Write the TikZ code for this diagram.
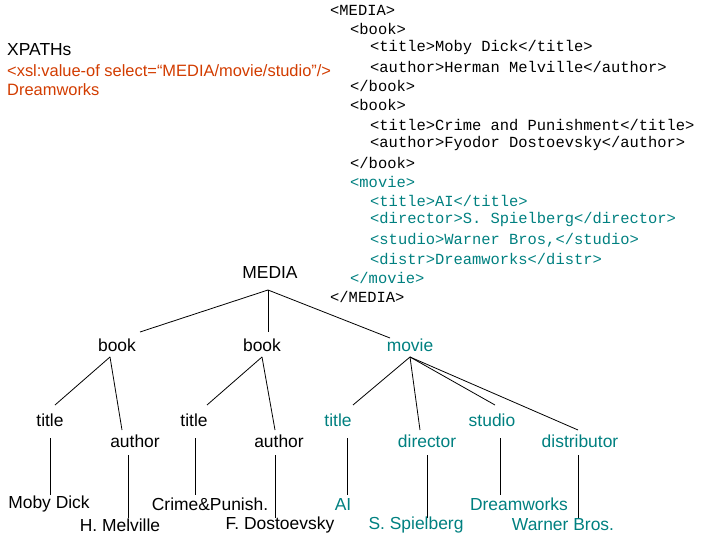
\documentclass[tikz,border=0pt]{standalone}
\usepackage{fontspec}
\setmainfont{Liberation Sans}
\newfontfamily\xmlfont{Liberation Mono}
\definecolor{tealc}{RGB}{0,128,128}
\definecolor{orng}{RGB}{210,60,0}
\begin{document}
\begin{tikzpicture}[x=1bp,y=-1bp,
  lbl/.style={inner sep=0pt,font=\fontsize{17.5}{19}\selectfont},
  tl/.style={lbl,text=tealc},
  xml/.style={inner sep=0pt,anchor=west,font=\xmlfont\fontsize{15.5}{18}\selectfont},
  edge/.style={black,line width=0.8bp}]
\useasboundingbox (0,0) rectangle (720,540);
% left texts
\node[lbl,anchor=west] (xp) at (7,50) {XPATHs};
\node[lbl,anchor=west,text=orng,font=\fontsize{16.5}{18}\selectfont] (sel) at (7,71) {<xsl:value-of select=“MEDIA/movie/studio"/>};
\node[lbl,anchor=west,text=orng,font=\fontsize{16.5}{18}\selectfont] (dw) at (7,90) {Dreamworks};
% xml
\node[xml] (x1) at (330,10) {<MEDIA>};
\node[xml] (x2) at (350,29) {<book>};
\node[xml] (x3) at (370,48) {<title>Moby Dick</title>};
\node[xml] (x4) at (370,67) {<author>Herman Melville</author>};
\node[xml] (x5) at (350,86) {</book>};
\node[xml] (x6) at (350,105) {<book>};
\node[xml] (x7) at (370,125) {<title>Crime and Punishment</title>};
\node[xml] (x8) at (370,144) {<author>Fyodor Dostoevsky</author>};
\node[xml] (x9) at (350,163) {</book>};
\node[xml,text=tealc] (x10) at (350,182) {<movie>};
\node[xml,text=tealc] (x11) at (370,201) {<title>AI</title>};
\node[xml,text=tealc] (x12) at (370,220) {<director>S. Spielberg</director>};
\node[xml,text=tealc] (x13) at (370,240) {<studio>Warner Bros,</studio>};
\node[xml,text=tealc] (x14) at (370,259) {<distr>Dreamworks</distr>};
\node[xml,text=tealc] (x15) at (350,278) {</movie>};
\node[xml] (x16) at (330,297) {</MEDIA>};
% tree
\node[lbl] (media) at (270,273) {MEDIA};
\coordinate (r) at (268,290);
\node[lbl] (b1) at (117,345) {book};
\node[lbl] (b2) at (262,345) {book};
\node[tl] (mv) at (410,345) {movie};
\coordinate (b1t) at (140,332); \coordinate (b2t) at (268,332); \coordinate (mvt) at (390,338);
\draw[edge] (r) -- (b1t); \draw[edge] (r) -- (b2t); \draw[edge] (r) -- (mvt);
\coordinate (b1b) at (110,357); \coordinate (b2b) at (262,357); \coordinate (mvb) at (410,357);
\node[lbl] (t1) at (50,420) {title};
\node[lbl] (a1) at (135,441) {author};
\node[lbl] (t2) at (194,420) {title};
\node[lbl] (a2) at (279,441) {author};
\node[tl] (t3) at (338,420) {title};
\node[tl] (d3) at (427,441) {director};
\node[tl] (s3) at (492,420) {studio};
\node[tl] (ds3) at (580,441) {distributor};
\coordinate (t1t) at (55,405); \coordinate (a1t) at (122,430);
\coordinate (t2t) at (207,405); \coordinate (a2t) at (275,430);
\coordinate (t3t) at (353,405); \coordinate (d3t) at (420,430);
\coordinate (s3t) at (495,405); \coordinate (ds3t) at (578,430);
\draw[edge] (b1b) -- (t1t); \draw[edge] (b1b) -- (a1t);
\draw[edge] (b2b) -- (t2t); \draw[edge] (b2b) -- (a2t);
\draw[edge] (mvb) -- (t3t); \draw[edge] (mvb) -- (d3t);
\draw[edge] (mvb) -- (s3t); \draw[edge] (mvb) -- (ds3t);
\node[lbl] (v1) at (49,504) {Moby Dick};
\node[lbl] (v2) at (120,525) {H. Melville};
\node[lbl] (v3) at (210,504) {Crime\&Punish.};
\node[lbl] (v4) at (280,525) {F. Dostoevsky};
\node[tl] (v5) at (343,504) {AI};
\node[tl] (v6) at (416,525) {S. Spielberg};
\node[tl] (v7) at (519,504) {Dreamworks};
\node[tl] (v8) at (563,525) {Warner Bros.};
\coordinate (v1t) at (50,495); \coordinate (t1b) at (50,438);
\coordinate (v2t) at (128,518); \coordinate (a1b) at (128,455);
\coordinate (v3t) at (195,495); \coordinate (t2b) at (195,438);
\coordinate (v4t) at (275,518); \coordinate (a2b) at (275,455);
\coordinate (v5t) at (347,495); \coordinate (t3b) at (347,438);
\coordinate (v6t) at (427,518); \coordinate (d3b) at (427,455);
\coordinate (v7t) at (500,495); \coordinate (s3b) at (500,438);
\coordinate (v8t) at (578,518); \coordinate (ds3b) at (578,455);
\draw[edge] (t1b) -- (v1t); \draw[edge] (a1b) -- (v2t);
\draw[edge] (t2b) -- (v3t); \draw[edge] (a2b) -- (v4t);
\draw[edge] (t3b) -- (v5t); \draw[edge] (d3b) -- (v6t);
\draw[edge] (s3b) -- (v7t); \draw[edge] (ds3b) -- (v8t);
\end{tikzpicture}
\end{document}
